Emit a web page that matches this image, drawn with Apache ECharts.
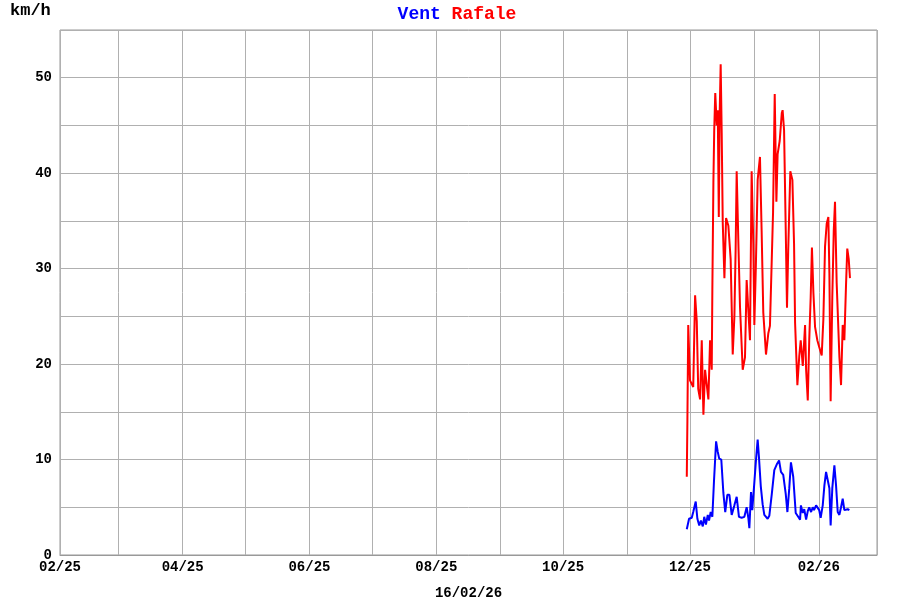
<!DOCTYPE html>
<html>
<head>
<meta charset="utf-8">
<script src="https://cdn.jsdelivr.net/npm/echarts@6/dist/echarts.min.js"></script>
<style>
  html, body { margin: 0; padding: 0; background: #fff; }
  #chart { width: 900px; height: 600px; }
</style>
</head>
<body>
<div id="chart"></div>
<script>
// jours comptés depuis le 01/12/2025
var rafaleJours = [-1.5, -1.2, -0.8, 0.05, 1.6, 2.5, 3.3, 4.0, 4.9, 5.7, 6.5, 7.3, 8.1, 8.9, 9.7, 10.5, 10.8, 11.3, 11.7, 12.2,
  12.9, 13.4, 13.9, 14.3, 14.8, 15.3, 15.8, 16.6, 17.4, 18.5, 19.6, 20.6, 21.4, 22.0, 22.5, 23.4, 24.1, 25.4, 26.5, 27.3,
  28.1, 28.9, 29.7, 30.5, 31.0, 31.7, 32.6, 33.7, 34.5, 35.3, 36.6, 37.7, 38.5, 39.4, 40.0, 40.8, 41.6, 42.2, 43.2, 44.2,
  44.6, 45.3, 46.1, 46.7, 47.3, 48.3, 49.3, 50.1, 50.6, 51.7, 52.6, 53.3, 54.3, 55.4, 55.9, 56.7, 57.4, 58.1, 58.7, 59.4,
  60.2, 61.3, 62.2, 63.4, 64.2, 65.0, 65.8, 66.6, 67.1, 67.7, 68.5, 69.2, 69.8, 70.6, 71.9, 72.7, 73.5, 74.3, 75.1, 75.7,
  76.4, 77.0];
var rafale = [8.2, 14.1, 24.1, 18.3, 17.6, 27.2, 24.5, 17.4, 16.3, 22.5, 14.7, 19.4, 19.2, 16.3, 22.5, 19.4, 27.8, 39.0, 44.5, 48.4,
  45.0, 46.6, 35.4, 46.0, 51.4, 44.2, 34.8, 29.0, 35.3, 34.5, 31.0, 21.0, 25.0, 32.0, 40.2, 32.0, 26.0, 19.4, 20.7, 28.8,
  28.9, 22.5, 40.2, 32.6, 24.1, 30.0, 39.3, 41.7, 34.0, 25.4, 21.0, 23.2, 24.0, 24.1, 35.9, 48.3, 37.0, 42.0, 43.4, 46.3,
  46.6, 44.5, 34.1, 25.9, 32.0, 40.2, 39.3, 32.6, 24.3, 17.8, 20.8, 22.5, 19.8, 24.1, 19.4, 16.2, 22.5, 27.0, 32.2, 27.5,
  23.9, 22.5, 21.8, 20.9, 24.7, 32.3, 34.7, 35.4, 29.5, 16.1, 27.0, 34.0, 37.0, 28.5, 20.8, 17.8, 24.1, 22.5, 28.3, 32.1,
  31.0, 29.0];

var ventJours = [-1.5, -0.4, 0.9, 1.6, 2.8, 3.6, 4.5, 5.3, 6.2, 6.9, 7.7, 8.6, 9.2, 10.0, 10.8, 11.6, 12.6, 13.4, 14.1, 15.1,
  16.1, 17.0, 18.0, 19.0, 20.1, 21.4, 22.5, 23.6, 24.9, 26.2, 27.3, 28.1, 28.6, 29.4, 30.0, 30.8, 31.7, 32.6, 33.2, 34.1,
  35.0, 35.8, 36.6, 37.4, 38.2, 39.4, 40.6, 41.8, 42.9, 43.8, 44.9, 46.1, 46.9, 47.8, 48.6, 49.7, 50.9, 52.1, 53.0, 53.4,
  54.3, 55.0, 55.9, 56.7, 57.4, 58.3, 59.1, 59.7, 60.7, 61.5, 62.2, 62.9, 63.9, 64.7, 65.5, 66.3, 67.1, 67.7, 68.5, 69.5,
  70.3, 71.1, 71.9, 72.7, 73.5, 74.3, 75.1, 75.9, 76.7];
var vent = [2.7, 3.8, 3.9, 4.5, 5.6, 3.8, 3.1, 3.6, 3.0, 4.0, 3.2, 4.2, 3.6, 4.5, 4.0, 7.8, 11.9, 10.8, 10.1, 10.0,
  6.5, 4.5, 6.3, 6.3, 4.2, 5.2, 6.1, 4.0, 3.9, 4.0, 5.0, 3.9, 2.8, 6.6, 4.7, 7.0, 9.7, 12.1, 10.3, 7.2,
  5.3, 4.2, 4.3, 3.8, 4.1, 6.4, 8.9, 9.5, 9.9, 8.7, 8.4, 6.4, 4.5, 7.0, 9.7, 8.2, 4.4, 4.0, 3.7, 5.2,
  4.4, 4.8, 3.7, 4.6, 5.0, 4.5, 5.0, 4.7, 5.2, 5.3, 4.7, 3.9, 5.2, 7.3, 8.7, 8.7, 7.0, 3.1, 7.0, 9.4,
  7.3, 4.5, 4.2, 5.0, 5.9, 4.7, 4.8, 4.8, 4.7];

var debut = new Date(2025, 11, 1).getTime();
var unJour = 86400000;

function serie(jours, valeurs) {
  var out = [];
  for (var i = 0; i < jours.length; i++) {
    out.push([debut + jours[i] * unJour, valeurs[i]]);
  }
  return out;
}

var police = 'Liberation Mono, DejaVu Sans Mono, monospace';
var chart = echarts.init(document.getElementById('chart'));

var option = {
  backgroundColor: '#fff',
  animation: false,
  title: {
    text: '{v|Vent }{r|Rafale}',
    left: 452,
    textAlign: 'center',
    top: 0,
    textStyle: {
      rich: {
        v: { color: '#0000ff', fontFamily: police, fontWeight: 'bold', fontSize: 18 },
        r: { color: '#ff0000', fontFamily: police, fontWeight: 'bold', fontSize: 18 }
      }
    }
  },
  graphic: [{
    type: 'text',
    left: 10,
    top: 2,
    style: { text: 'km/h', fill: '#000', font: 'bold 17px ' + police }
  }],
  grid: {
    left: 60,
    right: 23,
    top: 30,
    bottom: 45,
    outerBoundsMode: 'none',
    containLabel: false,
    show: true,
    borderColor: '#999',
    borderWidth: 1
  },
  xAxis: {
    type: 'time',
    min: new Date(2025, 1, 1).getTime(),
    max: new Date(2026, 2, 1).getTime(),
    minInterval: 28 * unJour,
    maxInterval: 31 * unJour,
    name: '16/02/26',
    nameLocation: 'middle',
    nameGap: 31,
    nameTextStyle: { color: '#000', fontFamily: police, fontWeight: 'bold', fontSize: 14 },
    axisLine: { lineStyle: { color: '#999' } },
    axisTick: { show: false },
    splitLine: { show: true, lineStyle: { color: '#b0b0b0', width: 1 } },
    axisLabel: {
      color: '#000',
      fontFamily: police,
      fontWeight: 'bold',
      fontSize: 14,
      margin: 5,
      hideOverlap: false,
      formatter: function (val) {
        var d = new Date(val);
        if (d.getMonth() % 2 !== 1 || d.getDate() !== 1) return '';
        var m = d.getMonth() + 1;
        return (m < 10 ? '0' + m : m) + '/' + String(d.getFullYear()).slice(2);
      }
    }
  },
  yAxis: {
    type: 'value',
    min: 0,
    max: 55,
    interval: 5,
    axisLine: { show: false },
    axisTick: { show: false },
    splitLine: { show: true, lineStyle: { color: '#b0b0b0', width: 1 } },
    axisLabel: {
      color: '#000',
      fontFamily: police,
      fontWeight: 'bold',
      fontSize: 14,
      margin: 8,
      formatter: function (v) { return v % 10 === 0 ? String(v) : ''; }
    }
  },
  series: [{
    name: 'Rafale',
    type: 'line',
    data: serie(rafaleJours, rafale),
    showSymbol: false,
    lineStyle: { color: '#ff0000', width: 2 },
    z: 2
  }, {
    name: 'Vent',
    type: 'line',
    data: serie(ventJours, vent),
    showSymbol: false,
    lineStyle: { color: '#0000ff', width: 2 },
    z: 3
  }]
};

chart.setOption(option);
</script>
</body>
</html>
